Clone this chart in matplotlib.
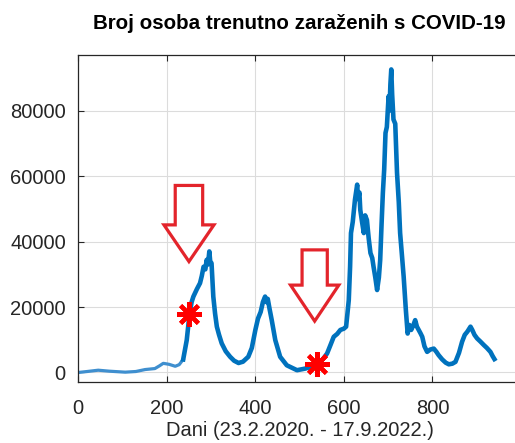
import matplotlib
matplotlib.use('Agg')
import matplotlib.pyplot as plt

plt.rcParams['font.family'] = ['Liberation Sans', 'DejaVu Sans']

# days since 23.2.2020 and active cases
days = [0, 20, 45, 70, 106, 130, 151, 173, 183, 192,
        205, 219, 228, 237, 245, 251, 256, 260, 268, 275,
        279, 283, 287, 290, 293, 296, 298, 301, 305, 309,
        313, 318, 324, 333, 343, 352, 362, 372, 384, 392,
        400, 406, 412, 417, 422, 425, 428, 432, 437, 445,
        456, 471, 494, 513, 528, 543, 552, 562, 570, 577,
        585, 592, 600, 605, 608, 611, 614, 616, 620, 625,
        630, 632, 635, 637, 641, 645, 648, 652, 656, 660,
        664, 667, 671, 675, 679, 682, 685, 688, 691, 694,
        697, 701, 703, 705, 707, 709, 712, 716, 720, 724,
        727, 731, 735, 740, 744, 748, 752, 757, 761, 765,
        769, 773, 777, 782, 788, 795, 803, 809, 814, 822,
        830, 837, 845, 852, 860, 867, 873, 879, 886, 890,
        895, 901, 908, 916, 923, 931, 936, 940]
cases = [0, 300, 700, 400, 100, 300, 900, 1200, 2000, 2800,
         2500, 1900, 2400, 4000, 9900, 17500, 21500, 23200, 25500, 27300,
         29500, 32300, 31500, 34400, 33000, 37000, 34000, 33400, 23200, 18000,
         14000, 11500, 8900, 6500, 4800, 3600, 2900, 3300, 4800, 7500,
         13000, 16500, 18500, 21500, 23200, 21500, 22500, 19500, 16000, 9900,
         4800, 2200, 700, 1200, 1800, 2750, 4000, 5800, 8500, 10900,
         11800, 13000, 13400, 14000, 18000, 22100, 32300, 42600, 46000, 52800,
         57400, 53000, 55000, 49700, 46000, 42600, 48000, 46600, 41000, 36500,
         35000, 32300, 29000, 25200, 29000, 34400, 45000, 54800, 62000, 73200,
         75000, 84400, 80000, 88000, 92600, 85000, 77300, 76000, 61000, 52000,
         42600, 36000, 29300, 19000, 11900, 14500, 13000, 14500, 16000, 14000,
         13000, 12000, 10900, 8000, 6300, 7000, 7300, 6300, 5300, 4000,
         3000, 2500, 2700, 3250, 6000, 9400, 11500, 12500, 14000, 13000,
         11500, 10400, 9500, 8400, 7500, 6300, 5000, 4100]

# highlighted points
star_x = [251, 540]
star_y = [17900, 2600]

# arrows: x, tail y, tip y, shaft width, head width, head length
arr_x = [250, 534]
arr_top = [57150, 37460]
arr_tip = [33900, 15700]
arr_w = [62, 57]
arr_hw = [113, 109]
arr_hl = [11200, 11000]

xticks = [0, 200, 400, 600, 800]
yticks = [0, 20000, 40000, 60000, 80000]

fig = plt.figure(figsize=(5.15, 4.43), dpi=100)
ax = fig.add_axes([0.152, 0.137, 0.8596, 0.7388])

n_early = 13  # first quiet months look thinner in the original
ax.plot(days[:n_early + 1], cases[:n_early + 1], color='#3f8fcf', lw=2.3)
ax.plot(days[n_early:], cases[n_early:], color='#0072BD', lw=3.3)
ax.plot(star_x, star_y, linestyle='none', marker=(8, 2, 0), ms=18,
        mew=3, color='red', zorder=4)

for i in range(len(arr_x)):
    ax.arrow(arr_x[i], arr_top[i], 0, arr_tip[i] - arr_top[i],
             width=arr_w[i], head_width=arr_hw[i], head_length=arr_hl[i],
             length_includes_head=True, fill=False, ec='#e3242b', lw=2.3,
             joinstyle='miter', zorder=5)

ax.set_xlim(0, 1000)
ax.set_ylim(-3000, 97000)
ax.set_xticks(xticks)
ax.set_yticks(yticks)
ax.grid(True, color='#dcdcdc', lw=0.8)
ax.set_axisbelow(True)
ax.tick_params(direction='in', length=4, top=True, right=False,
               labelsize=14.5, colors='#262626', pad=9)
ax.tick_params(axis='x', pad=12)
for s in ax.spines.values():
    s.set_color('#262626')
    s.set_linewidth(0.9)
ax.spines['right'].set_visible(False)

ax.set_title('Broj osoba trenutno zaraženih s COVID-19', fontsize=14.8,
             fontweight='bold', pad=19)
ax.set_xlabel('Dani (23.2.2020. - 17.9.2022.)', fontsize=14.5, color='#262626',
              labelpad=2)

fig.savefig('out.png', dpi=100)
